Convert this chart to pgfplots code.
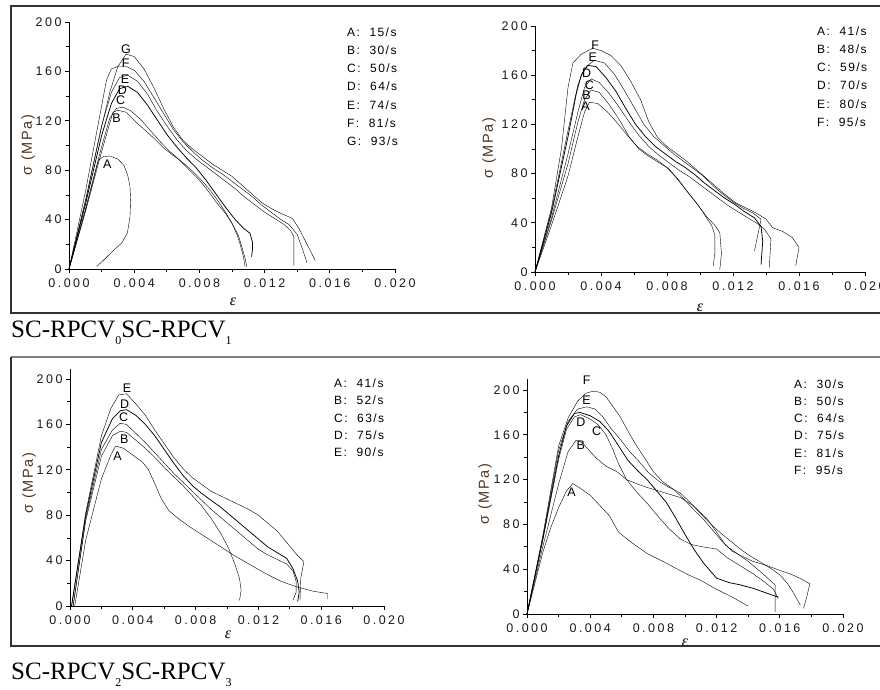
\documentclass[border=0pt]{standalone}
\usepackage{pgfplots}
\pgfplotsset{compat=1.18}
\usepackage{fontspec}
\setmainfont{Liberation Sans}
\newfontfamily\spfont[LetterSpace=12]{Liberation Sans}
\newfontfamily\tkfont[LetterSpace=20]{Liberation Sans}
\newfontfamily\serif{Liberation Serif}
\definecolor{ylab}{RGB}{80,50,30}
\pgfplotsset{panel/.style={
 scale only axis, axis lines=left, axis line style={-, line width=0.8pt},
 xmin=0, xmax=0.02, ymin=0, scaled x ticks=false, scaled y ticks=false,
 xtick={0,0.004,0.008,0.012,0.016,0.02},
 xticklabels={0.000,0.004,0.008,0.012,0.016,0.020},
 minor xtick={0.002,0.006,0.01,0.014,0.018},
 ytick={0,40,80,120,160,200},
 minor ytick={20,60,100,140,180},
 tick align=outside, major tick length=4pt, minor tick length=3pt,
 every tick/.style={black, line width=0.7pt},
 tick label style={font=\tkfont\fontsize{12.5}{13}\selectfont, text=black!90},
 xticklabel style={yshift=-2.5pt},
 /pgf/number format/assume math mode=true,
 clip=false, anchor=south west,
 cycle list={{black,solid,mark=none,line width=0.75pt,line join=round}},
}}
\tikzset{cl/.style={font=\fontsize{12.5}{12.5}\selectfont, inner sep=0pt},
 leg/.style={anchor=west, inner sep=0pt, font=\spfont\fontsize{12}{12}\selectfont},
 yl/.style={rotate=90, font=\spfont\fontsize{14.5}{14.5}\selectfont, text=ylab},
 xl/.style={font=\serif\itshape\fontsize{16}{16}\selectfont}}
\begin{document}
\begin{tikzpicture}
\useasboundingbox (0pt,0pt) rectangle (880pt,689pt);
% ---------------- Panel 1 ----------------
\begin{axis}[panel, at={(69pt,420pt)}, width=326pt, height=247pt, ymax=200]
\addplot coordinates {(0,0) (0.0010,47) (0.0018,88) (0.0021,91) (0.0025,91.5) (0.0030,89) (0.00337,84) (0.0036,76) (0.00374,67) (0.00378,56) (0.00374,42) (0.00358,29) (0.00323,21) (0.00272,15) (0.00211,7) (0.0017,2)};
\addplot coordinates {(0,0) (0.001,46) (0.002,95) (0.0025,118) (0.0027,127) (0.0030,128.5) (0.0035,127) (0.0041,119) (0.0047,112) (0.0052,106) (0.0058,98) (0.0064,92) (0.0070,86) (0.0076,79) (0.0082,71) (0.0087,63) (0.0092,54) (0.0096,46) (0.0100,37) (0.0103,28) (0.0105,20) (0.0107,10) (0.0108,2)};
\addplot coordinates {(0,0) (0.001,48) (0.002,99) (0.0025,122) (0.0029,130) (0.0033,131) (0.0038,128) (0.0044,121) (0.0050,112) (0.0056,103) (0.0062,95) (0.0068,88) (0.0074,80) (0.0080,72) (0.0086,62) (0.0091,53) (0.0096,45) (0.0100,37) (0.0104,27) (0.0106,18) (0.0108,9) (0.0109,2)};
\addplot coordinates {(0,0) (0.001,52) (0.002,108) (0.0026,134) (0.0031,146) (0.0036,148) (0.0042,143) (0.0048,133) (0.0054,121) (0.0060,109) (0.0066,99) (0.0072,90) (0.0078,82) (0.0084,72) (0.0090,61) (0.0096,50) (0.0102,40) (0.0107,33) (0.0111,29) (0.01125,22) (0.01125,15) (0.0112,10)};
\addplot coordinates {(0,0) (0.001,55) (0.002,116) (0.0026,143) (0.0031,155) (0.0036,157) (0.0042,152) (0.0048,142) (0.0054,128) (0.0060,116) (0.0066,105) (0.0072,96) (0.0078,89) (0.0084,83) (0.0090,77) (0.0096,71) (0.0102,65) (0.0108,58) (0.0114,52) (0.0120,46) (0.0126,41) (0.0132,36) (0.0136,31) (0.0138,26) (0.0138,15) (0.0138,3)};
\addplot coordinates {(0,0) (0.001,62) (0.002,132) (0.0023,153) (0.0026,162) (0.0030,164) (0.0035,164) (0.0040,161) (0.0046,152) (0.0052,139) (0.0058,126) (0.0064,113) (0.0070,103) (0.0076,95) (0.0082,88) (0.0088,82) (0.0094,77) (0.0100,71) (0.0106,65) (0.0112,59) (0.0118,52) (0.0124,46) (0.0130,40) (0.0135,36) (0.0140,28) (0.0143,17) (0.0146,5)};
\addplot coordinates {(0,0) (0.001,54) (0.002,115) (0.0025,143) (0.0030,164) (0.0035,174) (0.0040,172) (0.0046,162) (0.0052,147) (0.0058,130) (0.0064,115) (0.0070,104) (0.0076,97) (0.0082,91) (0.0088,85) (0.0094,80) (0.0100,75) (0.0106,68) (0.0112,61) (0.0118,54) (0.0124,49) (0.0130,45) (0.0137,41) (0.0141,33) (0.0146,20) (0.0151,7)};
\node[cl] at (axis cs:0.00235,85) {A};
\node[cl] at (axis cs:0.00292,122) {B};
\node[cl] at (axis cs:0.00317,137) {C};
\node[cl] at (axis cs:0.00327,145) {D};
\node[cl] at (axis cs:0.00344,153.6) {E};
\node[cl] at (axis cs:0.00348,167) {F};
\node[cl] at (axis cs:0.0035,178) {G};
\end{axis}
% ---------------- Panel 2 ----------------
\begin{axis}[panel, at={(535pt,417pt)}, width=330pt, height=246pt, ymax=200]
\addplot coordinates {(0,0) (0.001,38) (0.002,78) (0.0026,110) (0.0030,130) (0.0033,138) (0.0038,137) (0.0044,130) (0.0050,121) (0.0056,111) (0.0062,102) (0.0068,96) (0.0074,91) (0.0080,85) (0.0086,76) (0.0092,66) (0.0098,56) (0.0103,46) (0.0107,38) (0.0109,30) (0.0109,15) (0.0108,5)};
\addplot coordinates {(0,0) (0.001,42) (0.002,88) (0.0026,122) (0.0030,140) (0.0034,148) (0.0039,146) (0.0045,136) (0.0051,124) (0.0057,110) (0.0063,100) (0.0069,94) (0.0075,89) (0.0081,84) (0.0087,75) (0.0093,64) (0.0099,54) (0.0104,45) (0.0109,38) (0.0112,32) (0.0113,15) (0.0112,2)};
\addplot coordinates {(0,0) (0.001,44) (0.002,96) (0.0026,130) (0.0030,150) (0.0034,157) (0.0039,154) (0.0045,145) (0.0051,134) (0.0057,122) (0.0063,111) (0.0069,102) (0.0075,95) (0.0081,89) (0.0087,83) (0.0093,78) (0.0099,72) (0.0105,66) (0.0111,60) (0.0117,54) (0.0123,49) (0.0129,44) (0.0134,40) (0.0139,35) (0.0143,27) (0.0142,4)};
\addplot coordinates {(0,0) (0.001,48) (0.002,110) (0.0025,145) (0.0028,160) (0.0032,168) (0.0037,167) (0.0043,158) (0.0049,147) (0.0055,133) (0.0061,120) (0.0067,110) (0.0073,102) (0.0079,96) (0.0085,90) (0.0091,85) (0.0097,79) (0.0103,72) (0.0109,66) (0.0115,60) (0.0121,55) (0.0127,49) (0.0133,44) (0.0137,37) (0.0138,25) (0.0137,6)};
\addplot coordinates {(0,0) (0.001,50) (0.002,115) (0.0026,152) (0.0030,166) (0.0036,172) (0.0042,170) (0.0048,161) (0.0054,148) (0.0060,134) (0.0066,120) (0.0072,110) (0.0078,103) (0.0084,96) (0.0090,90) (0.0096,84) (0.0102,78) (0.0108,70) (0.0114,63) (0.0120,57) (0.0126,52) (0.0132,48) (0.0137,43) (0.0135,30) (0.0133,17)};
\addplot coordinates {(0,0) (0.001,52) (0.0016,100) (0.0020,150) (0.0023,170) (0.0028,177) (0.0035,182) (0.0040,180) (0.0046,176) (0.0052,168) (0.0058,155) (0.0064,140) (0.0069,122) (0.0074,110) (0.0080,102) (0.0086,96) (0.0092,90) (0.0098,83) (0.0104,76) (0.0110,69) (0.0116,62) (0.0122,56) (0.0128,52) (0.0134,48) (0.0140,43) (0.0144,36) (0.0150,33) (0.0156,28) (0.0160,20) (0.0158,5)};
\node[cl] at (axis cs:0.00307,134.8) {A};
\node[cl] at (axis cs:0.00313,144) {B};
\node[cl] at (axis cs:0.0033,152) {C};
\node[cl] at (axis cs:0.00313,161.6) {D};
\node[cl] at (axis cs:0.0035,175) {E};
\node[cl] at (axis cs:0.00364,184.6) {F};
\end{axis}
% ---------------- Panel 3 ----------------
\begin{axis}[panel, at={(70pt,83pt)}, width=314pt, height=237.2pt, ymax=209]
\addplot coordinates {(0.0003,0) (0.001,58) (0.002,112) (0.0026,133) (0.0029,141) (0.0034,139) (0.0040,133) (0.0046,127) (0.0050,120) (0.0054,108) (0.0058,95) (0.0063,84) (0.0069,77) (0.0076,70) (0.0085,62) (0.0094,54) (0.0104,45) (0.0114,37) (0.0124,29) (0.0134,22) (0.0144,17) (0.0155,13) (0.0164,11) (0.0164,6)};
\addplot coordinates {(0.0002,0) (0.001,75) (0.002,132) (0.0027,150) (0.0032,154) (0.0036,153) (0.0042,146) (0.0048,139) (0.0054,131) (0.0060,122) (0.0066,114) (0.0072,106) (0.0078,97) (0.0084,88) (0.0090,77) (0.0096,64) (0.0101,51) (0.0105,37) (0.0108,24) (0.0109,14) (0.0108,5)};
\addplot coordinates {(0.0002,0) (0.001,77) (0.002,138) (0.0027,155) (0.0032,161) (0.0036,160) (0.0042,152) (0.0048,144) (0.0054,135) (0.0060,126) (0.0066,117) (0.0072,109) (0.0078,101) (0.0084,93) (0.0090,85) (0.0096,78) (0.0102,71) (0.0108,64) (0.0114,57) (0.0120,50) (0.0126,45) (0.0132,41) (0.0138,37) (0.0142,31) (0.0144,22) (0.0144,12) (0.0142,5)};
\addplot coordinates {(0.0001,0) (0.001,80) (0.002,144) (0.0027,165) (0.0032,172) (0.0036,173) (0.0042,168) (0.0048,160) (0.0054,150) (0.0060,138) (0.0066,126) (0.0072,115) (0.0078,106) (0.0084,99) (0.0090,93) (0.0096,87) (0.0102,80) (0.0108,73) (0.0114,66) (0.0120,59) (0.0126,52) (0.0132,47) (0.0138,42) (0.0142,33) (0.0145,22) (0.0146,12) (0.0145,4)};
\addplot coordinates {(0.0001,0) (0.001,82) (0.002,150) (0.0026,174) (0.0031,186) (0.0036,187) (0.0042,178) (0.0048,168) (0.0054,155) (0.0060,143) (0.0066,131) (0.0072,121) (0.0078,113) (0.0084,107) (0.0090,101) (0.0096,97) (0.0102,93) (0.0108,89) (0.0114,85) (0.0120,80) (0.0126,73) (0.0132,66) (0.0138,56) (0.0144,46) (0.0149,39) (0.0147,25) (0.01465,5)};
\node[cl] at (axis cs:0.00303,132) {A};
\node[cl] at (axis cs:0.00346,147) {B};
\node[cl] at (axis cs:0.00341,166) {C};
\node[cl] at (axis cs:0.00348,178) {D};
\node[cl] at (axis cs:0.00363,192) {E};
\end{axis}
% ---------------- Panel 4 ----------------
\begin{axis}[panel, at={(527pt,75pt)}, width=316pt, height=235.2pt, ymax=210]
\addplot coordinates {(0,0) (0.001,55) (0.0015,77) (0.002,95) (0.0025,110) (0.0029,116.5) (0.0034,112) (0.0040,106) (0.0046,97) (0.0052,88) (0.0058,73) (0.0066,64) (0.0076,54) (0.0086,47) (0.0094,41) (0.0102,35) (0.0110,30) (0.0120,22) (0.0130,15) (0.0140,7)};
\addplot coordinates {(0,0) (0.001,60) (0.002,116) (0.0026,145) (0.0031,155) (0.0035,153) (0.0040,145) (0.0044,139) (0.0050,132) (0.0057,127) (0.0063,120) (0.0070,116) (0.0076,113) (0.0083,110) (0.0090,107) (0.0097,104) (0.0105,97) (0.0114,85) (0.0120,73) (0.0126,61) (0.0133,54) (0.0140,47) (0.0150,35) (0.0157,26) (0.0157,12) (0.0157,2)};
\addplot coordinates {(0,0) (0.001,66) (0.002,138) (0.0025,165) (0.0030,176) (0.0034,178) (0.0040,174) (0.0045,169) (0.0050,160) (0.0054,148) (0.0058,134) (0.0063,120) (0.0070,108) (0.0076,99) (0.0083,87) (0.0090,76) (0.0097,67) (0.0104,62) (0.0111,60) (0.0120,58) (0.0127,50) (0.0135,43) (0.0143,36) (0.0150,29) (0.0156,22) (0.0159,14)};
\addplot coordinates {(0,0) (0.001,67) (0.002,141) (0.0025,168) (0.0030,179) (0.00335,180) (0.0040,177) (0.0046,172) (0.0052,163) (0.0058,150) (0.0064,137) (0.0070,128) (0.0076,120) (0.0082,110) (0.0088,100) (0.0094,86) (0.0100,71) (0.0106,57) (0.0112,45) (0.0120,32) (0.0128,28) (0.0135,26) (0.0143,23) (0.0151,19) (0.0159,15)};
\addplot coordinates {(0,0) (0.001,68) (0.002,146) (0.0026,172) (0.0032,183) (0.0038,185) (0.0043,183) (0.0048,176) (0.0053,166) (0.0059,156) (0.0065,145) (0.0071,136) (0.0077,126) (0.0084,118) (0.0090,113) (0.0097,108) (0.0103,100) (0.0109,91) (0.0115,82) (0.0122,73) (0.0128,66) (0.0135,58) (0.0141,52) (0.0147,47) (0.0154,41) (0.0160,35) (0.0165,27) (0.0169,18) (0.0173,8)};
\addplot coordinates {(0,0) (0.001,70) (0.002,150) (0.0026,175) (0.0032,190) (0.0037,197) (0.0042,199) (0.0046,198) (0.0050,194) (0.0054,186) (0.0059,176) (0.0064,163) (0.0069,151) (0.0075,138) (0.0080,127) (0.0086,118) (0.0093,111) (0.0099,103) (0.0105,94) (0.0112,84) (0.0118,74) (0.0124,64) (0.0130,56) (0.0137,51) (0.0143,47) (0.0150,44) (0.0156,41) (0.0162,38) (0.0168,35) (0.0174,31) (0.0179,27) (0.0177,15) (0.0175,5)};
\node[cl] at (axis cs:0.00282,109) {A};
\node[cl] at (axis cs:0.00341,150.7) {B};
\node[cl] at (axis cs:0.0044,163) {C};
\node[cl] at (axis cs:0.00341,171) {D};
\node[cl] at (axis cs:0.00377,190.8) {E};
\node[cl] at (axis cs:0.00377,209) {F};
\end{axis}
\begin{scope}[x=1pt,y=1pt]
% axis titles
\node[yl] at (28,544) {σ (MPa)};
\node[yl] at (489,541) {σ (MPa)};
\node[yl] at (29,206) {σ (MPa)};
\node[yl] at (485,195) {σ (MPa)};
\node[xl] at (233,387) {ε};
\node[xl] at (700,381) {ε};
\node[xl] at (228,54) {ε};
\node[xl] at (685,46) {ε};
% legends
\foreach \t [count=\i from 0] in {A:~~15/s,B:~~30/s,C:~~50/s,D:~~64/s,E:~~74/s,F:~~81/s,G:~~93/s}
  \node[leg] at (347,657-18.2*\i) {\t};
\foreach \t [count=\i from 0] in {A:~~41/s,B:~~48/s,C:~~59/s,D:~~70/s,E:~~80/s,F:~~95/s}
  \node[leg] at (817,658-18.2*\i) {\t};
\foreach \t [count=\i from 0] in {A:~~41/s,B:~~52/s,C:~~63/s,D:~~75/s,E:~~90/s}
  \node[leg] at (334,306-17.4*\i) {\t};
\foreach \t [count=\i from 0] in {A:~~30/s,B:~~50/s,C:~~64/s,D:~~75/s,E:~~81/s,F:~~95/s}
  \node[leg] at (794,305-17.2*\i) {\t};
% cover parts outside frames
\fill[white] (440,334) rectangle (881,375);
\fill[white] (300,-1) rectangle (881,42);
% frames
\draw[black!80, line width=1.2pt] (881,683) -- (11,683) -- (11,376) -- (881,376);
\draw[black!50, line width=1.8pt] (11,332) -- (881,332);
\draw[black!80, line width=1.2pt] (11,332) -- (11,43) -- (881,43);
% captions
\node[anchor=base west, inner sep=0pt, font=\serif\fontsize{25}{25}\selectfont] at (11,352) {SC-RPCV\raisebox{-7pt}{\fontsize{12}{12}\selectfont 0}SC-RPCV\raisebox{-7pt}{\fontsize{12}{12}\selectfont 1}};
\node[anchor=base west, inner sep=0pt, font=\serif\fontsize{25}{25}\selectfont] at (11,10) {SC-RPCV\raisebox{-7pt}{\fontsize{12}{12}\selectfont 2}SC-RPCV\raisebox{-7pt}{\fontsize{12}{12}\selectfont 3}};
\end{scope}
\end{tikzpicture}
\end{document}
